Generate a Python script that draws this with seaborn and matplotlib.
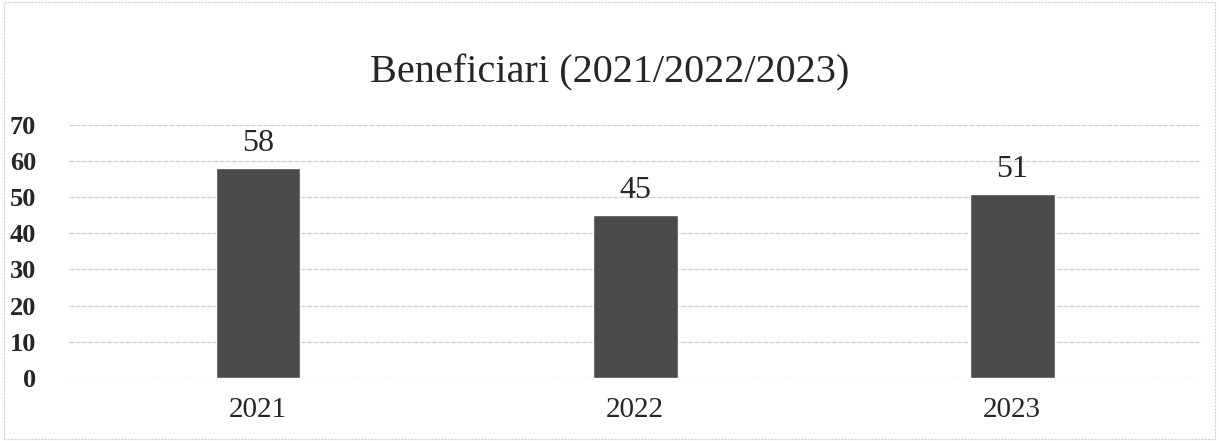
import matplotlib
matplotlib.use("Agg")
import matplotlib.pyplot as plt
import pandas as pd
import seaborn as sns

years = ["2021", "2022", "2023"]
beneficiari = [58, 45, 51]

sns.set_theme(style="white")
plt.rcParams["font.family"] = ["Liberation Serif", "DejaVu Serif"]

df = pd.DataFrame({"anno": years, "valore": beneficiari})

fig = plt.figure(figsize=(12.19, 4.41), dpi=100)
ax = fig.add_axes([0.057, 0.143, 0.928, 0.574])

sns.barplot(data=df, x="anno", y="valore", color="#4a4a4a", width=0.225,
            saturation=1, ax=ax, zorder=3)

ax.set_ylim(0, 70)
ax.set_yticks(range(0, 71, 10))
ax.yaxis.grid(True, color="#cfcfcf", linewidth=0.9, linestyle=(0, (4, 1)), zorder=0)
ax.set_xlabel("")
ax.set_ylabel("")
for s in ax.spines.values():
    s.set_visible(False)
ax.tick_params(axis="y", labelsize=19, length=0, pad=24)
ax.tick_params(axis="x", labelsize=21, length=0, pad=14)
for lbl in ax.get_yticklabels():
    lbl.set_fontweight("bold")

for c in ax.containers:
    ax.bar_label(c, labels=[str(v) for v in beneficiari], fontsize=23, padding=7)

fig.text(0.5, 0.835, "Beneficiari (2021/2022/2023)", ha="center", va="center",
         fontsize=29)

fig.patches.append(plt.Rectangle((0.003, 0.005), 0.994, 0.99, transform=fig.transFigure,
                                 fill=False, edgecolor="#d0d0d0", linewidth=0.8,
                                 linestyle=(0, (2, 1))))

fig.savefig("out.png", dpi=100)
